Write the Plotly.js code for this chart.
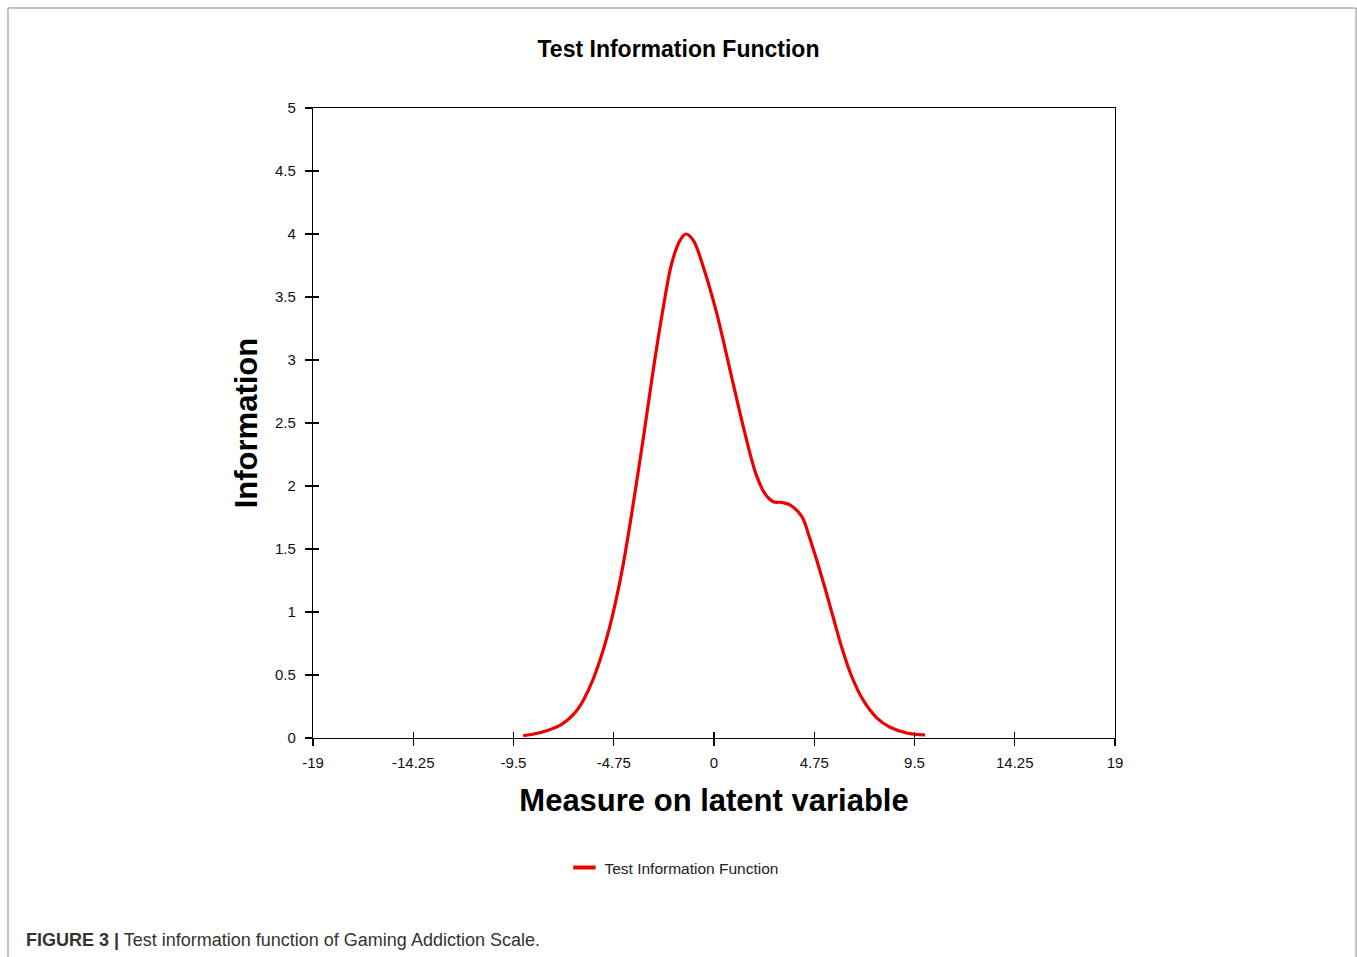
<!DOCTYPE html>
<html>
<head>
<meta charset="utf-8">
<script src="https://cdn.plot.ly/plotly-3.0.1.min.js"></script>
<style>html,body{margin:0;padding:0;background:#fff;}#chart{width:1357px;height:957px;}</style>
</head>
<body>
<div id="chart"></div>
<script>
// Data
const theta = [-9.04, -8.09, -7.30, -7.00, -6.67, -6.43, -6.19, -5.72, -5.32, -4.93, -4.61, -4.30, -3.90, -3.35, -2.88, -2.40, -2.00, -1.61, -1.33, -0.98, -0.51, 0.13, 0.76, 1.39, 2.02, 2.45, 2.81, 3.20, 3.60, 4.15, 4.51, 4.87, 5.26, 5.66, 6.05, 6.52, 7.07, 7.71, 8.34, 9.13, 10.0];
const information = [0.018, 0.05, 0.10, 0.135, 0.185, 0.235, 0.30, 0.47, 0.66, 0.89, 1.12, 1.38, 1.78, 2.38, 2.92, 3.42, 3.77, 3.95, 4.00, 3.95, 3.74, 3.37, 2.92, 2.47, 2.08, 1.93, 1.875, 1.87, 1.85, 1.76, 1.60, 1.41, 1.19, 0.95, 0.72, 0.49, 0.30, 0.16, 0.085, 0.04, 0.024];
const xTicks = [-19, -14.25, -9.5, -4.75, 0, 4.75, 9.5, 14.25, 19];
const xTickLabels = ["-19", "-14.25", "-9.5", "-4.75", "0", "4.75", "9.5", "14.25", "19"];
const yTicks = [0, 0.5, 1, 1.5, 2, 2.5, 3, 3.5, 4, 4.5, 5];
const yTickLabels = ["0", "0.5", "1", "1.5", "2", "2.5", "3", "3.5", "4", "4.5", "5"];
const seriesName = "Test Information Function";

const FONT = "Liberation Sans, Arial, sans-serif";
const RED = "#ee0000";
const tickFont = {family: FONT, size: 15, color: "#111"};

const traces = [{
  x: theta, y: information, type: "scatter", mode: "lines",
  name: seriesName, showlegend: false,
  line: {color: RED, width: 3.2, shape: "spline", smoothing: 1.0},
  xaxis: "x", yaxis: "y"
}, {
  // legend entry only (short red dash like the reference key)
  x: [null], y: [null], type: "scatter", mode: "markers", name: seriesName, showlegend: true,
  marker: {symbol: "line-ew-open", size: 18, color: RED, line: {color: RED, width: 4}},
  xaxis: "x", yaxis: "y"
}, {
  x: [0], y: [0], type: "scatter", mode: "markers", showlegend: false,
  marker: {opacity: 0}, hoverinfo: "skip", xaxis: "x2", yaxis: "y2"
}];

const layout = {
  width: 1357, height: 957,
  paper_bgcolor: "#fff", plot_bgcolor: "#fff",
  margin: {l: 313, r: 242, t: 108, b: 219},
  title: {text: "Test Information Function", xref: "container", x: 0.5, xanchor: "center",
          yref: "container", y: 1 - 49/957, yanchor: "middle",
          font: {family: FONT, size: 23, color: "#000", weight: "bold"}},
  xaxis: {
    range: [-19, 19], tickmode: "array", tickvals: xTicks, ticktext: xTickLabels,
    showgrid: false, zeroline: false, showline: true, linecolor: "#000", linewidth: 1.2, mirror: true,
    ticks: "outside", ticklen: 7, tickcolor: "#000", tickwidth: 1.2, tickfont: tickFont,
    ticklabelstandoff: 4,
    title: {text: "Measure on latent variable", standoff: 19,
            font: {family: FONT, size: 31, color: "#000", weight: "bold"}}
  },
  yaxis: {
    range: [0, 5], tickmode: "array", tickvals: yTicks, ticktext: yTickLabels,
    showgrid: false, zeroline: false, showline: true, linecolor: "#000", linewidth: 1.2, mirror: true,
    ticks: "outside", ticklen: 7, tickcolor: "#000", tickwidth: 1.2, tickfont: tickFont,
    ticklabelstandoff: 6,
    title: {text: "Information", standoff: 8,
            font: {family: FONT, size: 31, color: "#000", weight: "bold"}}
  },
  xaxis2: {overlaying: "x", matches: "x", range: [-19, 19], tickmode: "array", tickvals: xTicks,
           showticklabels: false, showgrid: false, zeroline: false, showline: false,
           ticks: "inside", ticklen: 6, tickcolor: "#000", tickwidth: 1.2, anchor: "y2", side: "bottom"},
  yaxis2: {overlaying: "y", range: [0, 5], tickmode: "array", tickvals: yTicks,
           showticklabels: false, showgrid: false, zeroline: false, showline: false,
           ticks: "inside", ticklen: 6, tickcolor: "#000", tickwidth: 1.2, anchor: "x2", side: "left"},
  showlegend: true,
  legend: {orientation: "h", xref: "container", x: 0.497, xanchor: "center",
           yref: "container", y: 1 - 868/957, yanchor: "middle",
           font: {family: FONT, size: 15.5, color: "#222"},
           bgcolor: "rgba(0,0,0,0)"},
  shapes: [{type: "rect", xref: "paper", yref: "paper",
            x0: (8 - 313) / 802, x1: (1356 - 313) / 802,
            y0: (738 - 1000) / 630, y1: (738 - 8) / 630,
            line: {color: "#8a8a8a", width: 1}, fillcolor: "rgba(0,0,0,0)", layer: "below"}],
  annotations: [{
    xref: "paper", yref: "paper", x: (24 - 313) / 802, xanchor: "left",
    y: (738 - 940) / 630, yanchor: "middle", showarrow: false,
    text: "<b>FIGURE 3 |</b> Test information function of Gaming Addiction Scale.",
    font: {family: FONT, size: 18, color: "#333"}
  }]
};

Plotly.newPlot("chart", traces, layout, {staticPlot: true, displayModeBar: false});
</script>
</body>
</html>
